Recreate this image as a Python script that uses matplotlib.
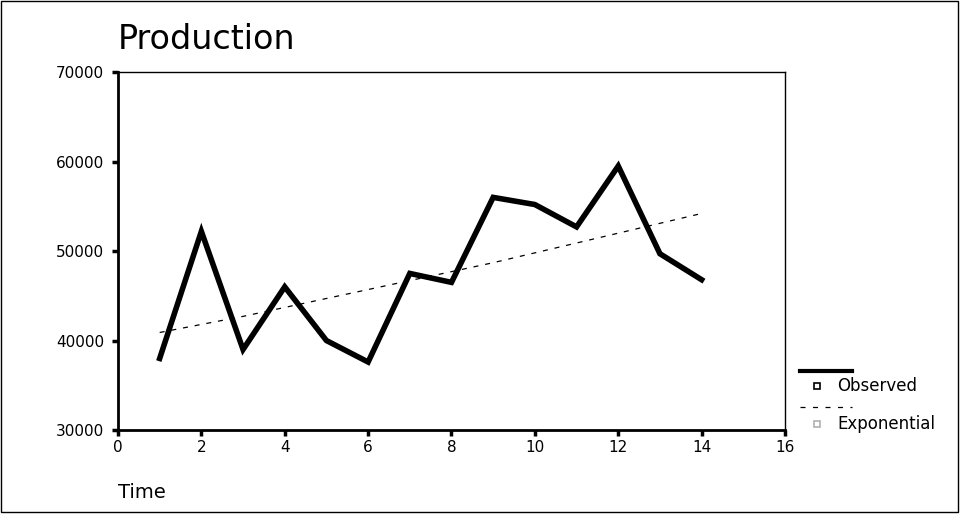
import numpy as np
import matplotlib.pyplot as plt
from matplotlib.lines import Line2D
from matplotlib.patches import Rectangle

plt.rcParams['font.family'] = ['DejaVu Sans']

# data
time = [1, 2, 3, 4, 5, 6, 7, 8, 9, 10, 11, 12, 13, 14]
observed = [38000, 52200, 39000, 46000, 40000, 37600, 47500, 46500,
            56000, 55200, 52700, 59500, 49700, 46800]
exponential = [40900, 41800, 42700, 43700, 44700, 45700, 46700, 47700,
               48700, 49800, 50900, 52000, 53100, 54200]
x_ticks = [0, 2, 4, 6, 8, 10, 12, 14, 16]
y_ticks = [30000, 40000, 50000, 60000, 70000]

fig = plt.figure(figsize=(9.6, 5.15), dpi=100)
ax = fig.add_axes([0.1229, 0.165, 0.6948, 0.695])

ax.plot(time, observed, color='black', lw=4, solid_joinstyle='miter')
ax.plot(time, exponential, color='black', lw=0.9, dashes=(4, 5.5))

ax.set_xlim(0, 16)
ax.set_ylim(30000, 70000)
ax.set_xticks(x_ticks)
ax.set_yticks(y_ticks)
ax.tick_params(direction='out', length=4, width=2.5, labelsize=11)
ax.tick_params(axis='x', pad=3)
ax.tick_params(axis='y', pad=6)

for s in ['left', 'bottom']:
    ax.spines[s].set_linewidth(2)
for s in ['top', 'right']:
    ax.spines[s].set_linewidth(1)

fig.text(0.123, 0.924, 'Production', fontsize=24, va='center', ha='left')
fig.text(0.123, 0.044, 'Time', fontsize=14, va='center', ha='left')

# legend drawn by hand, SPSS style
fig.add_artist(Line2D([0.833, 0.888], [0.279, 0.279], color='black', lw=3,
                      transform=fig.transFigure))
fig.add_artist(Rectangle((0.8475, 0.245), 0.0068, 0.012, facecolor='white',
                         edgecolor='black', lw=1.2, transform=fig.transFigure))
fig.text(0.872, 0.251, 'Observed', fontsize=12, va='center', ha='left')
fig.add_artist(Line2D([0.833, 0.888], [0.210, 0.210], color='black', lw=0.9,
                      dashes=(4, 6), transform=fig.transFigure))
fig.add_artist(Rectangle((0.8475, 0.171), 0.0068, 0.012, facecolor='white',
                         edgecolor='#b0b0b0', lw=1.2, transform=fig.transFigure))
fig.text(0.872, 0.177, 'Exponential', fontsize=12, va='center', ha='left')

# thin frame around the whole picture
fig.add_artist(Rectangle((0.001, 0.006), 0.997, 0.992, fill=False,
                         edgecolor='black', lw=1, transform=fig.transFigure))

fig.savefig('out.png', dpi=100)
